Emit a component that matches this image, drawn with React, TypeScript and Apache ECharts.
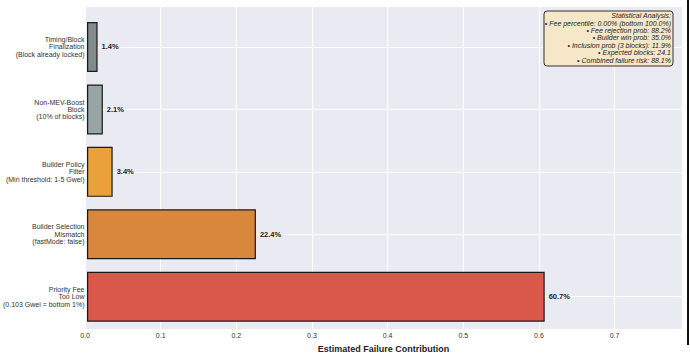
import React, { useEffect, useRef } from 'react';
import * as echarts from 'echarts';

const categories = [
  'Timing/Block\nFinalization\n(Block already locked)',
  'Non-MEV-Boost\nBlock\n(10% of blocks)',
  'Builder Policy\nFilter\n(Min threshold: 1-5 Gwei)',
  'Builder Selection\nMismatch\n(fastMode: false)',
  'Priority Fee\nToo Low\n(0.103 Gwei = bottom 1%)',
];
const values = [0.014, 0.021, 0.034, 0.224, 0.607];
const barColors = ['#808b8a', '#98a5a5', '#e9a23b', '#d8873d', '#d9584a'];
const xMin = 0;
const xMax = 0.7891;
const xInterval = 0.1;
const xAxisTitle = 'Estimated Failure Contribution';
const statsLines = [
  'Statistical Analysis:',
  '• Fee percentile: 0.00% (bottom 100.0%)',
  '• Fee rejection prob: 88.2%',
  '• Builder win prob: 35.0%',
  '• Inclusion prob (3 blocks): 11.9%',
  '• Expected blocks: 24.1',
  '• Combined failure risk: 88.1%',
];

const FONT = '"Liberation Sans", Arial, sans-serif';

export default function App() {
  const ref = useRef<HTMLDivElement>(null);
  useEffect(() => {
    if (!ref.current) return;
    const chart = echarts.init(ref.current, undefined, { renderer: 'svg' });
    const plotLeft = 85;
    const plotTop = 7;
    const plotW = 597;
    const plotH = 329.7;
    const unit = plotH / 5.28;
    const barTop = plotTop + (0.64 - 0.5) * unit;
    const barH = unit * 5;
    chart.setOption({
      animation: false,
      textStyle: { fontFamily: FONT },
      grid: [
        {
          left: plotLeft,
          top: plotTop,
          width: plotW,
          height: plotH,
          show: true,
          backgroundColor: '#eaeaf2',
          borderWidth: 0,
        },
        {
          left: plotLeft,
          top: barTop,
          width: plotW,
          height: barH,
          show: false,
        },
      ],
      xAxis: [
        {
          gridIndex: 0,
          type: 'value',
          min: xMin,
          max: xMax,
          interval: xInterval,
          axisLine: { show: false },
          axisTick: { show: false },
          splitLine: { show: true, lineStyle: { color: '#ffffff', width: 1 } },
          axisLabel: {
            fontSize: 7,
            color: '#333',
            margin: 3,
            fontFamily: FONT,
            formatter: (v: number) => v.toFixed(1),
            showMaxLabel: false,
          },
          name: xAxisTitle,
          nameLocation: 'middle',
          nameGap: 11,
          nameTextStyle: { fontSize: 9, fontWeight: 'bold', color: '#222', fontFamily: FONT },
        },
        {
          gridIndex: 1,
          type: 'value',
          min: xMin,
          max: xMax,
          show: false,
        },
      ],
      yAxis: [
        {
          gridIndex: 0,
          type: 'value',
          min: 0,
          max: 1,
          show: false,
        },
        {
          gridIndex: 1,
          type: 'category',
          data: categories,
          inverse: true,
          axisLine: { show: false },
          axisTick: { show: false },
          splitLine: { show: false },
          axisLabel: {
            fontSize: 7,
            lineHeight: 7.4,
            align: 'right',
            margin: 2.5,
            color: '#333',
            fontFamily: FONT,
          },
        },
      ],
      series: [
        {
          type: 'line',
          xAxisIndex: 1,
          yAxisIndex: 1,
          data: [],
          silent: true,
          z: 1,
          markLine: {
            silent: true,
            z: 1,
            symbol: ['none', 'none'],
            label: { show: false },
            lineStyle: { color: '#ffffff', width: 1, type: 'solid' },
            data: categories.map((c) => ({ yAxis: c })),
          },
        },
        {
          type: 'bar',
          xAxisIndex: 1,
          yAxisIndex: 1,
          z: 3,
          barWidth: 0.8 * unit,
          data: values.map((v, i) => ({
            value: v,
            itemStyle: { color: barColors[i], borderColor: '#1a1a1a', borderWidth: 1.2 },
          })),
          label: {
            show: true,
            position: 'right',
            distance: 4,
            formatter: (p: any) => (p.value * 100).toFixed(1) + '%',
            fontSize: 7.5,
            fontWeight: 'bold',
            color: '#222',
            fontFamily: FONT,
          },
        },
      ],
      graphic: [
        {
          type: 'rect',
          shape: { x: 544, y: 11, width: 129, height: 55, r: 3 },
          style: { fill: '#f5e7c8', stroke: '#333', lineWidth: 1 },
          z: 10,
        },
        {
          type: 'text',
          x: 671,
          y: 12,
          z: 11,
          style: {
            text: statsLines.join('\n'),
            align: 'right',
            verticalAlign: 'top',
            fontSize: 7,
            fontStyle: 'italic',
            fontFamily: FONT,
            lineHeight: 7.4,
            fill: '#222',
          },
        },
        {
          type: 'rect',
          shape: { x: 687, y: 0, width: 2, height: 345 },
          style: { fill: '#111' },
          z: 10,
        },
      ],
    });
    return () => chart.dispose();
  }, []);
  return (
    <div
      ref={ref}
      style={{ position: 'fixed', left: 0, top: 0, width: 690, height: 358, background: '#fff' }}
    />
  );
}
